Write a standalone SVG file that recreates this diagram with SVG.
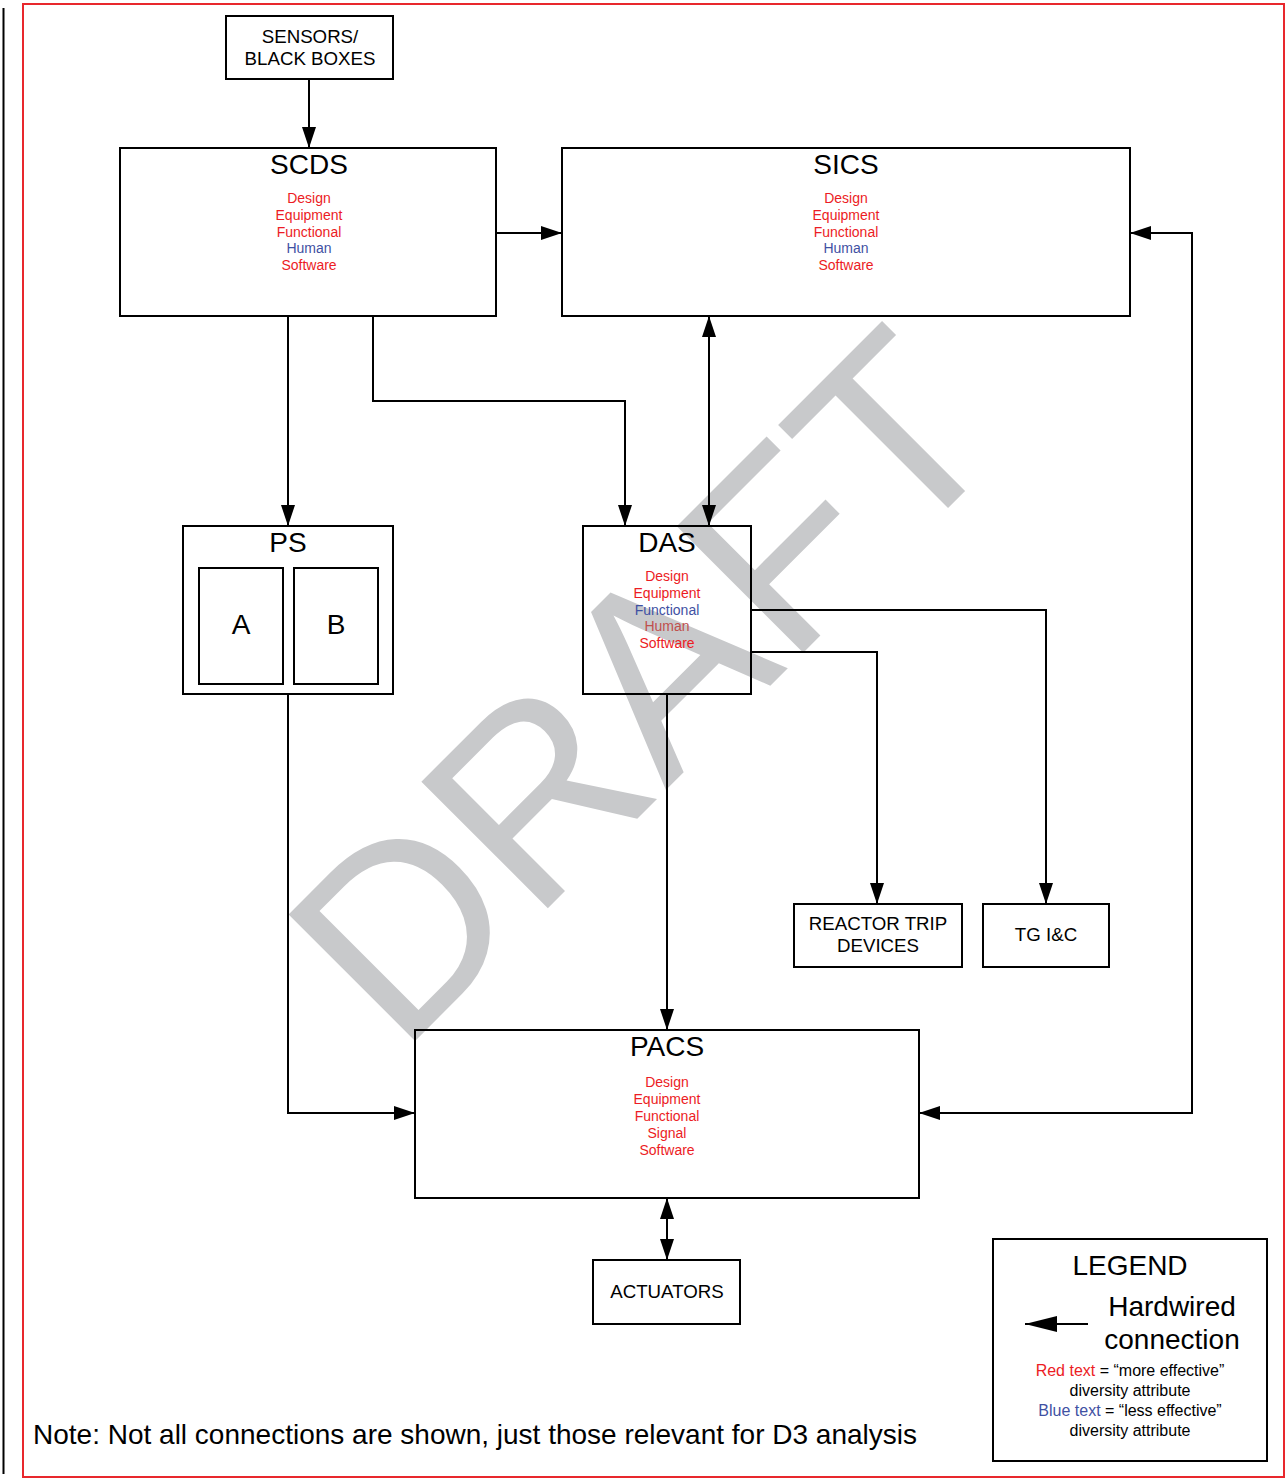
<svg xmlns="http://www.w3.org/2000/svg" width="1286" height="1479" viewBox="0 0 1286 1479">
<defs>
<marker id="ah" markerUnits="userSpaceOnUse" markerWidth="21" markerHeight="14" viewBox="0 0 21 14" refX="21" refY="7" orient="auto-start-reverse">
<path d="M0,0 L21,7 L0,14 z" fill="#000"/>
</marker>
<marker id="ahl" markerUnits="userSpaceOnUse" markerWidth="32" markerHeight="16" viewBox="0 0 32 16" refX="32" refY="8" orient="auto">
<path d="M0,0 L32,8 L0,16 z" fill="#000"/>
</marker>
</defs>
<style>
text{font-family:"Liberation Sans",Arial,sans-serif;fill:#000}
.box{fill:none;stroke:#000;stroke-width:2}
.ln{fill:none;stroke:#000;stroke-width:2}
.t18{font-size:18.7px;text-anchor:middle}
.t28{font-size:28px;text-anchor:middle}
.at{font-size:14px;text-anchor:middle}
.r{fill:#ec1c24}
.b{fill:#3f51a3}
.br{fill:#c0504d}
.lg{font-size:16px;text-anchor:middle}
</style>
<rect width="1286" height="1479" fill="#fff"/>
<line x1="3.5" y1="8" x2="3.5" y2="1474" stroke="#000" stroke-width="2"/>
<rect x="23" y="4" width="1261" height="1473" fill="none" stroke="#e8282d" stroke-width="2"/>
<text x="0" y="0" transform="translate(400,1056) rotate(-45)" font-size="260" style="fill:#c8c9cb">DRAFT</text>

<g id="connectors">
<line class="ln" x1="309" y1="79" x2="309" y2="148" marker-end="url(#ah)"/>
<line class="ln" x1="496" y1="233" x2="562" y2="233" marker-end="url(#ah)"/>
<line class="ln" x1="288" y1="316" x2="288" y2="526" marker-end="url(#ah)"/>
<polyline class="ln" points="373,316 373,401 625,401 625,526" marker-end="url(#ah)"/>
<line class="ln" x1="709" y1="316" x2="709" y2="526" marker-start="url(#ah)" marker-end="url(#ah)"/>
<polyline class="ln" points="751,652 877,652 877,904" marker-end="url(#ah)"/>
<polyline class="ln" points="751,610 1046,610 1046,904" marker-end="url(#ah)"/>
<line class="ln" x1="667" y1="694" x2="667" y2="1030" marker-end="url(#ah)"/>
<polyline class="ln" points="288,694 288,1113 415,1113" marker-end="url(#ah)"/>
<polyline class="ln" points="919,1113 1192,1113 1192,233 1130,233" marker-start="url(#ah)" marker-end="url(#ah)"/>
<line class="ln" x1="667" y1="1198" x2="667" y2="1260" marker-start="url(#ah)" marker-end="url(#ah)"/>
</g>

<g id="sensors">
<rect class="box" x="226" y="16" width="167" height="63"/>
<text class="t18" x="310" y="43">SENSORS/</text>
<text class="t18" x="310" y="65">BLACK BOXES</text>
</g>

<g id="scds">
<rect class="box" x="120" y="148" width="376" height="168"/>
<text class="t28" x="309" y="174">SCDS</text>
<text class="at r" x="309" y="203">Design</text>
<text class="at r" x="309" y="220">Equipment</text>
<text class="at r" x="309" y="237">Functional</text>
<text class="at b" x="309" y="253">Human</text>
<text class="at r" x="309" y="270">Software</text>
</g>

<g id="sics">
<rect class="box" x="562" y="148" width="568" height="168"/>
<text class="t28" x="846" y="174">SICS</text>
<text class="at r" x="846" y="203">Design</text>
<text class="at r" x="846" y="220">Equipment</text>
<text class="at r" x="846" y="237">Functional</text>
<text class="at b" x="846" y="253">Human</text>
<text class="at r" x="846" y="270">Software</text>
</g>

<g id="ps">
<rect class="box" x="183" y="526" width="210" height="168"/>
<text class="t28" x="288" y="552">PS</text>
<rect class="box" x="199" y="568" width="84" height="116"/>
<rect class="box" x="294" y="568" width="84" height="116"/>
<text class="t28" x="241" y="634">A</text>
<text class="t28" x="336" y="634">B</text>
</g>

<g id="das">
<rect class="box" x="583" y="526" width="168" height="168"/>
<text class="t28" x="667" y="552">DAS</text>
<text class="at r" x="667" y="581">Design</text>
<text class="at r" x="667" y="598">Equipment</text>
<text class="at b" x="667" y="615">Functional</text>
<text class="at br" x="667" y="631">Human</text>
<text class="at r" x="667" y="648">Software</text>
</g>

<g id="rtd">
<rect class="box" x="794" y="904" width="168" height="63"/>
<text class="t18" x="878" y="930">REACTOR TRIP</text>
<text class="t18" x="878" y="952">DEVICES</text>
</g>

<g id="tg">
<rect class="box" x="983" y="904" width="126" height="63"/>
<text class="t18" x="1046" y="941">TG I&amp;C</text>
</g>

<g id="pacs">
<rect class="box" x="415" y="1030" width="504" height="168"/>
<text class="t28" x="667" y="1056">PACS</text>
<text class="at r" x="667" y="1087">Design</text>
<text class="at r" x="667" y="1104">Equipment</text>
<text class="at r" x="667" y="1121">Functional</text>
<text class="at r" x="667" y="1138">Signal</text>
<text class="at r" x="667" y="1155">Software</text>
</g>

<g id="actuators">
<rect class="box" x="593" y="1260" width="147" height="64"/>
<text class="t18" x="667" y="1298">ACTUATORS</text>
</g>

<g id="legend">
<rect class="box" x="993" y="1239" width="274" height="222"/>
<text class="t28" x="1130" y="1275">LEGEND</text>
<line class="ln" x1="1088" y1="1324" x2="1025" y2="1324" marker-end="url(#ahl)"/>
<text class="t28" x="1172" y="1316">Hardwired</text>
<text class="t28" x="1172" y="1349">connection</text>
<text class="lg" x="1130" y="1376"><tspan class="r">Red text</tspan> = “more effective”</text>
<text class="lg" x="1130" y="1396">diversity attribute</text>
<text class="lg" x="1130" y="1416"><tspan class="b">Blue text</tspan> = “less effective”</text>
<text class="lg" x="1130" y="1436">diversity attribute</text>
</g>

<g id="note">
<text x="33" y="1444" font-size="28">Note: Not all connections are shown, just those relevant for D3 analysis</text>
</g>
</svg>
